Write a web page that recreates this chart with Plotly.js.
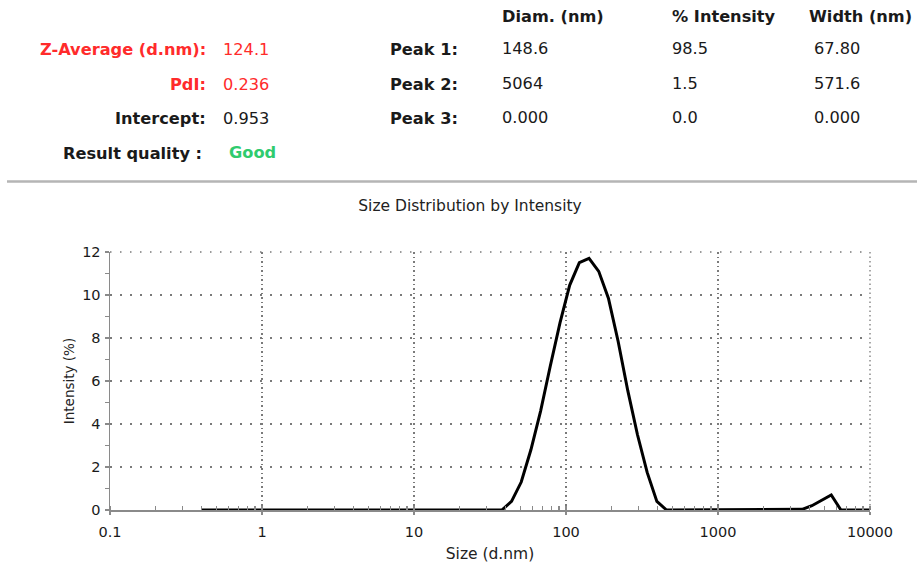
<!DOCTYPE html>
<html>
<head>
<meta charset="utf-8">
<script src="https://cdn.plot.ly/plotly-3.0.1.min.js"></script>
<style>
  html, body { margin: 0; padding: 0; background: #ffffff; }
  #chart { width: 917px; height: 567px; }
</style>
</head>
<body>
<div id="chart"></div>
<script>
// ---- Data ----
const sizes = [0.4, 0.4632, 0.5365, 0.6213, 0.7195, 0.8332, 0.9649, 1.117, 1.294, 1.499,
  1.736, 2.010, 2.328, 2.696, 3.122, 3.615, 4.187, 4.849, 5.615, 6.503,
  7.531, 8.721, 10.10, 11.70, 13.54, 15.69, 18.17, 21.04, 24.36, 28.21,
  32.67, 37.84, 43.82, 50.75, 58.77, 68.06, 78.82, 91.28, 105.7, 122.4,
  141.8, 164.2, 190.1, 220.2, 255.0, 295.3, 342.0, 396.1, 458.7, 531.2,
  615.1, 712.4, 825.0, 955.4, 1106, 1281, 1484, 1718, 1990, 2305,
  2669, 3091, 3580, 4145, 4801, 5560, 6439, 7456, 8635, 10000];
const intensity = [0, 0, 0, 0, 0, 0, 0, 0, 0, 0,
  0, 0, 0, 0, 0, 0, 0, 0, 0, 0,
  0, 0, 0, 0, 0, 0, 0, 0, 0, 0,
  0, 0, 0.4, 1.3, 2.8, 4.6, 6.7, 8.7, 10.45, 11.5,
  11.7, 11.1, 9.85, 7.85, 5.55, 3.5, 1.75, 0.4, 0, 0,
  0, 0, 0, 0, 0, 0, 0, 0, 0, 0,
  0, 0, 0.03, 0.2, 0.45, 0.7, 0, 0, 0, 0];

const xTickVals = [0.1, 1, 10, 100, 1000, 10000];
const xTickText = ['0.1', '1', '10', '100', '1000', '10000'];
const yTickVals = [0, 2, 4, 6, 8, 10, 12];

// Header table
const summaryLabels = ['Z-Average (d.nm):', 'PdI:', 'Intercept:'];
const summaryValues = ['124.1', '0.236', '0.953'];
const qualityLabel = 'Result quality :';
const qualityValue = 'Good';
const peakLabels = ['Peak 1:', 'Peak 2:', 'Peak 3:'];
const peakColumns = ['Diam. (nm)', '% Intensity', 'Width (nm)'];
const peakDiam = ['148.6', '5064', '0.000'];
const peakIntensity = ['98.5', '1.5', '0.0'];
const peakWidth = ['67.80', '571.6', '0.000'];

// ---- Layout helpers (pixel -> paper) ----
const W = 917, H = 567;
const L = 110, R = 870, T = 252, B = 510;
const px = v => (v - L) / (R - L);
const py = v => (B - v) / (B - T);

const FONT = 'DejaVu Sans, Liberation Sans, Arial, sans-serif';
const HFS = 16.2;
const RED = '#ff2b2b';
const DARK = '#1a1a1a';
const GREEN = '#2fcb6e';
const AXC = '#8a8a8a';
const GRIDC = '#7a7a7a';

const ann = [];
function addText(text, x, y, anchor, color, bold) {
  ann.push({
    text: bold ? '<b>' + text + '</b>' : text,
    xref: 'paper', yref: 'paper',
    x: px(x), y: py(y),
    xanchor: anchor, yanchor: 'middle',
    showarrow: false,
    font: { family: FONT, size: HFS, color: color }
  });
}
const rowY = [50, 84, 118];
summaryLabels.forEach((t, i) => addText(t, 208, rowY[i], 'right', i < 2 ? RED : DARK, true));
summaryValues.forEach((t, i) => addText(t, 221, rowY[i], 'left', i < 2 ? RED : DARK, false));
addText(qualityLabel, 204, 153, 'right', DARK, true);
addText(qualityValue, 227, 152, 'left', GREEN, true);
peakLabels.forEach((t, i) => addText(t, 460, rowY[i], 'right', DARK, true));
const colX = [500, 670, 812];
peakColumns.forEach((t, i) => {
  if (i === 2) addText(t, 914, 17, 'right', DARK, true);
  else addText(t, colX[i], 17, 'left', DARK, true);
});
[peakDiam, peakIntensity, peakWidth].forEach((col, c) => {
  col.forEach((t, i) => addText(t, colX[c], rowY[i] - 1, 'left', DARK, false));
});

const trace = {
  x: sizes,
  y: intensity,
  type: 'scatter',
  mode: 'lines',
  line: { color: '#000000', width: 3 },
  hoverinfo: 'x+y'
};

const layout = {
  width: W, height: H,
  margin: { l: L, r: W - R, t: T, b: H - B, pad: 0 },
  paper_bgcolor: '#ffffff',
  plot_bgcolor: '#ffffff',
  showlegend: false,
  font: { family: FONT, color: DARK },
  title: {
    text: 'Size Distribution by Intensity',
    font: { family: FONT, size: 15.5, color: '#222222' },
    xref: 'paper', x: px(470), xanchor: 'center',
    yref: 'container', y: 1 - 206 / H, yanchor: 'middle'
  },
  xaxis: {
    type: 'log',
    range: [-1, 4],
    tickmode: 'array',
    tickvals: xTickVals,
    ticktext: xTickText,
    tickfont: { family: FONT, size: 14.5, color: DARK },
    ticks: 'outside', ticklen: 3, tickwidth: 1.2, tickcolor: AXC,
    ticklabelstandoff: 5,
    showline: true, linecolor: AXC, linewidth: 1.5,
    showgrid: true, gridcolor: GRIDC, gridwidth: 1.3, griddash: '1.5px,3px',
    zeroline: false,
    minor: { dtick: 'D1', ticks: 'inside', ticklen: 4, tickwidth: 1.2, tickcolor: AXC, showgrid: false },
    title: { text: 'Size (d.nm)', font: { family: FONT, size: 15.5, color: '#222222' }, standoff: 9 },
    fixedrange: true
  },
  yaxis: {
    range: [0, 12],
    tickmode: 'array',
    tickvals: yTickVals,
    tickfont: { family: FONT, size: 14.5, color: DARK },
    ticks: 'outside', ticklen: 4, tickwidth: 1.2, tickcolor: AXC,
    ticklabelstandoff: 1,
    showline: true, linecolor: AXC, linewidth: 1.5,
    showgrid: true, gridcolor: GRIDC, gridwidth: 1.3, griddash: '1.5px,8.5px',
    zeroline: false,
    minor: { dtick: 1, ticks: 'outside', ticklen: 4, tickwidth: 1.2, tickcolor: AXC, showgrid: false },
    title: { text: 'Intensity (%)', font: { family: FONT, size: 13.5, color: '#222222' }, standoff: 4 },
    fixedrange: true
  },
  shapes: [
    {
      type: 'line', xref: 'paper', yref: 'paper',
      x0: px(7), x1: px(917), y0: py(181.5), y1: py(181.5),
      line: { color: '#b5b5b5', width: 2.5 }
    },
    { // top edge gridline (y = 12)
      type: 'line', xref: 'paper', yref: 'paper',
      x0: 0, x1: 1, y0: 1, y1: 1,
      line: { color: GRIDC, width: 1.3, dash: '1.5px,8.5px' }
    },
    { // right edge gridline (x = 10000)
      type: 'line', xref: 'paper', yref: 'paper',
      x0: 1, x1: 1, y0: 0, y1: 1,
      line: { color: GRIDC, width: 1.3, dash: '1.5px,3px' }
    }
  ],
  annotations: ann
};

Plotly.newPlot('chart', [trace], layout, { displayModeBar: false, staticPlot: true });
</script>
</body>
</html>
